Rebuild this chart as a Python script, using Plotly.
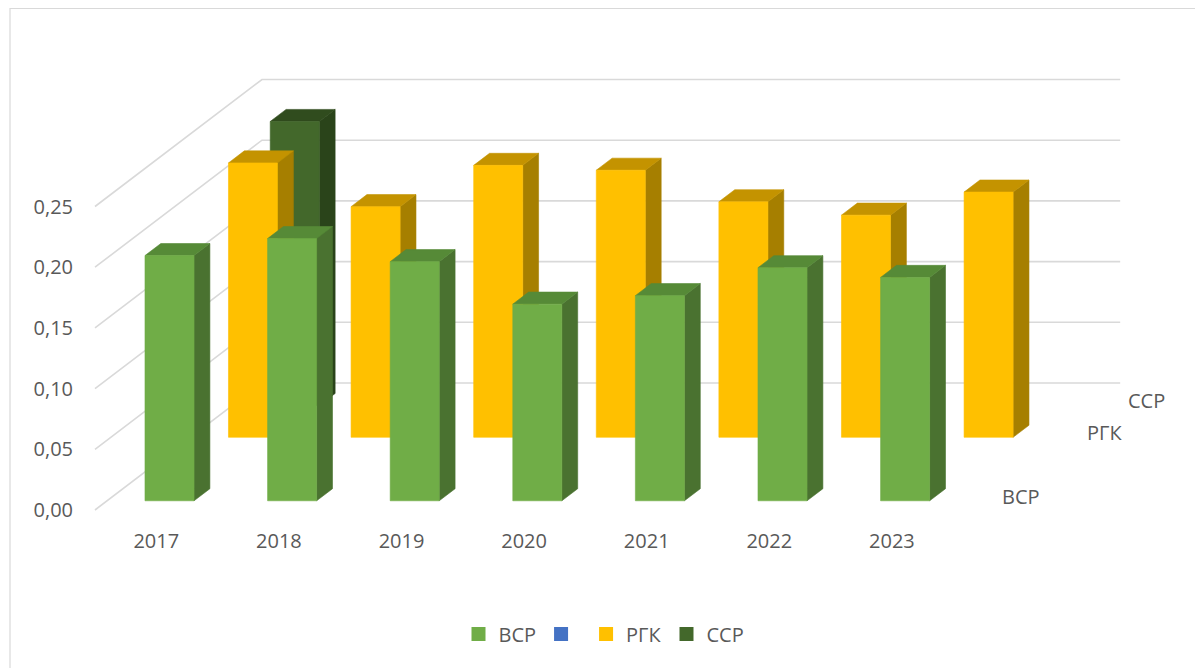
import plotly.graph_objects as go

# ---------------- data ----------------
years = ["2017", "2018", "2019", "2020", "2021", "2022", "2023"]
series_names = ["ВСР", "", "РГК", "ССР"]          # depth rows, front to back
vsr = [0.202, 0.216, 0.197, 0.162, 0.169, 0.192, 0.184]
blank = [None, None, None, None, None, None, None]
rgk = [0.226, 0.190, 0.224, 0.220, 0.194, 0.183, 0.202]
ssr = [0.234, None, None, None, None, None, None]
y_ticks = [0.00, 0.05, 0.10, 0.15, 0.20, 0.25]

# ---------------- styles ----------------
front_col = ["#70AD47", "#4472C4", "#FFC000", "#43682B"]
top_col = ["#568A37", "#36599A", "#C49300", "#304C1E"]
side_col = ["#4A7230", "#2F4F88", "#A67F00", "#2A441A"]
text_col = "#595959"
grid_col = "#D9D9D9"
FONT = "Open Sans"

# oblique projection parameters (per depth row, in axis units)
DU = 0.3405      # horizontal shift per depth row (category units)
DV = 0.02615     # vertical shift per depth row (value units)
N_ROWS = 4
D_FRONT = 0.29   # bar front face depth inside its row
D_THICK = 0.38   # bar depth thickness
BAR_W = 0.40
BAR_C = 0.509

values = [vsr, blank, rgk, ssr]
n_cat = len(years)

fig = go.Figure()

# ---------------- gridlines (side wall + back wall) ----------------
gx, gy = [], []
for t in y_ticks:
    gx += [0, N_ROWS * DU, n_cat + N_ROWS * DU, None]
    gy += [t, t + N_ROWS * DV, t + N_ROWS * DV, None]
fig.add_trace(go.Scatter(x=gx, y=gy, mode="lines",
                         line=dict(color=grid_col, width=1.6),
                         hoverinfo="skip", showlegend=False))

# ---------------- bars (painter's order: back row first) ----------------
for r in reversed(range(N_ROWS)):
    vals = values[r]
    d1 = r + D_FRONT
    d2 = d1 + D_THICK
    fx, fy, tx, ty, sx, sy = [], [], [], [], [], []
    for i, v in enumerate(vals):
        if v is None:
            continue
        xl = i + BAR_C - BAR_W / 2
        xr = i + BAR_C + BAR_W / 2
        ox1, oy1 = d1 * DU, d1 * DV
        ox2, oy2 = d2 * DU, d2 * DV
        fx += [xl + ox1, xr + ox1, xr + ox1, xl + ox1, xl + ox1, None]
        fy += [oy1, oy1, v + oy1, v + oy1, oy1, None]
        tx += [xl + ox1, xr + ox1, xr + ox2, xl + ox2, xl + ox1, None]
        ty += [v + oy1, v + oy1, v + oy2, v + oy2, v + oy1, None]
        sx += [xr + ox1, xr + ox2, xr + ox2, xr + ox1, xr + ox1, None]
        sy += [oy1, oy2, v + oy2, v + oy1, oy1, None]
    for px, py, col in ((sx, sy, side_col[r]), (tx, ty, top_col[r]), (fx, fy, front_col[r])):
        if px:
            fig.add_trace(go.Scatter(x=px, y=py, mode="lines", fill="toself",
                                     fillcolor=col, line=dict(color=col, width=0.6),
                                     hoverinfo="skip", showlegend=False))

# ---------------- legend entries ----------------
for r, name in enumerate(series_names):
    fig.add_trace(go.Scatter(x=[None], y=[None], mode="markers", name=name,
                             marker=dict(symbol="square", size=14, color=front_col[r]),
                             showlegend=True))

# ---------------- depth-axis labels ----------------
annotations = []
for r, name in enumerate(series_names):
    if not name:
        continue
    annotations.append(dict(x=n_cat + (r + 0.5) * DU, y=(r + 0.5) * DV, xref="x", yref="y",
                            text=name, showarrow=False, xanchor="center", yanchor="middle",
                            xshift=47, yshift=-2,
                            font=dict(family=FONT, size=20, color=text_col)))

# ---------------- layout ----------------
OFF = 8                      # page body margin of the browser
W, H = 1203 - OFF, 668 - OFF
L, R, T, B = 80 - OFF, 23, 40 - OFF, 144
plot_w = W - L - R
plot_h = H - T - B
px_per_u = 122.6
px_per_v = 1214.0
x0_px, y0_px = 95 - OFF, 510 - OFF       # figure pixel of (u=0, v=0)
x_range = [(L - x0_px) / px_per_u, (W - R - x0_px) / px_per_u]
y_range = [(y0_px - (H - B)) / px_per_v, (y0_px - T) / px_per_v]

fig.update_layout(
    width=W, height=H,
    margin=dict(l=L, r=R, t=T, b=B, pad=0),
    paper_bgcolor="white", plot_bgcolor="white",
    separators=", ",
    font=dict(family=FONT, size=20, color=text_col),
    xaxis=dict(range=x_range, showgrid=False, zeroline=False, showline=False,
               tickmode="array", tickvals=[i + 0.5 for i in range(n_cat)], ticktext=years,
               ticks="", ticklabelstandoff=3,
               tickfont=dict(family=FONT, size=20, color=text_col), fixedrange=True),
    yaxis=dict(range=y_range, showgrid=False, zeroline=False, showline=False,
               tickmode="array", tickvals=y_ticks, tickformat=".2f", ticks="",
               ticklabelstandoff=6,
               tickfont=dict(family=FONT, size=20, color=text_col), fixedrange=True),
    legend=dict(orientation="h", x=(604 - OFF - L) / plot_w, xanchor="center",
                y=((H - B) - (634 - OFF)) / plot_h, yanchor="middle",
                font=dict(family=FONT, size=20, color=text_col),
                itemsizing="trace", tracegroupgap=0),
    annotations=annotations,
    shapes=[dict(type="rect", xref="paper", yref="paper",
                 x0=(10 - OFF - L) / plot_w, x1=(1198 - OFF - L) / plot_w,
                 y0=((H - B) - (H + 4)) / plot_h, y1=((H - B) - 0.5) / plot_h,
                 line=dict(color=grid_col, width=1.2), fillcolor="rgba(0,0,0,0)", layer="below")],
    showlegend=True,
)

fig.write_html("out.html")
